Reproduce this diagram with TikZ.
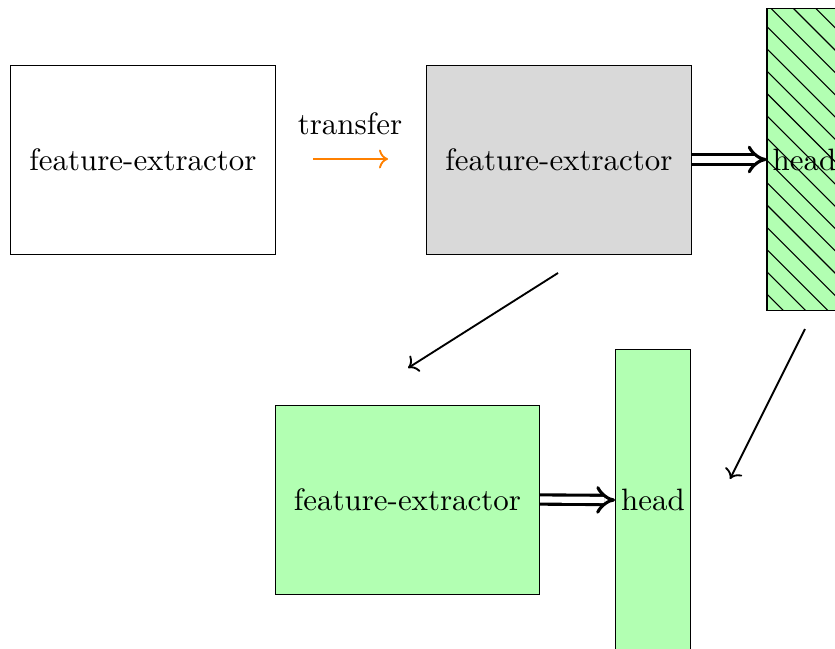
\documentclass[tikz,border=0pt]{standalone}
\usetikzlibrary{arrows.meta}
\begin{document}
\begin{tikzpicture}[x=0.3233pt,y=-0.3233pt,
  box/.style={draw, line width=0.3pt, inner sep=0pt},
  fe/.style={box, minimum width=85.4pt, minimum height=61.1pt},
  headbox/.style={box, fill=green!30, minimum width=24.2pt, minimum height=97.6pt},
  hatch/.style={line width=0.35pt},
  pipe/.style={double, double distance=2pt, line width=1pt, -{Implies}},
  flow/.style={semithick, ->}]
\useasboundingbox (0,0) rectangle (835,648);

% source model and the copy it is transferred into
\node[fe] (src) at (143,159.5) {feature-extractor};
\node[fe, fill=gray!30] (frozen) at (559,159.5) {feature-extractor};
\node[headbox] (oldhead) at (804.5,159.5) {};

% diagonal hatching of the frozen head
\begin{scope}
  \clip (oldhead.north west) rectangle (oldhead.south east);
  \foreach \k in {-15,...,7}
    \draw[hatch] (700,{138+22.3*\k}) -- ++(220,220);
\end{scope}
\draw[line width=0.3pt] (oldhead.north west) rectangle (oldhead.south east);
\node (oldlabel) at (oldhead.center) {head};

% transfer step
\node (tr) at (350,124) {transfer};
\coordinate (t1) at (313,159);
\coordinate (t2) at (388,159);
\draw[->, orange, semithick] (t1) -- (t2);

\draw[pipe] (frozen.east) -- (oldhead.west);

% fine-tuned model with its new head
\node[fe, fill=green!30] (tuned) at (407.5,499.5) {feature-extractor};
\node[headbox] (newhead) at (653,500) {head};
\draw[pipe] (tuned.east) -- (newhead.west);

% arrows into the new model
\coordinate (a1) at (558,273);
\coordinate (a2) at (408,368);
\coordinate (b1) at (805,329);
\coordinate (b2) at (730,479);
\draw[flow] (a1) -- (a2);
\draw[flow] (b1) -- (b2);
\end{tikzpicture}
\end{document}
